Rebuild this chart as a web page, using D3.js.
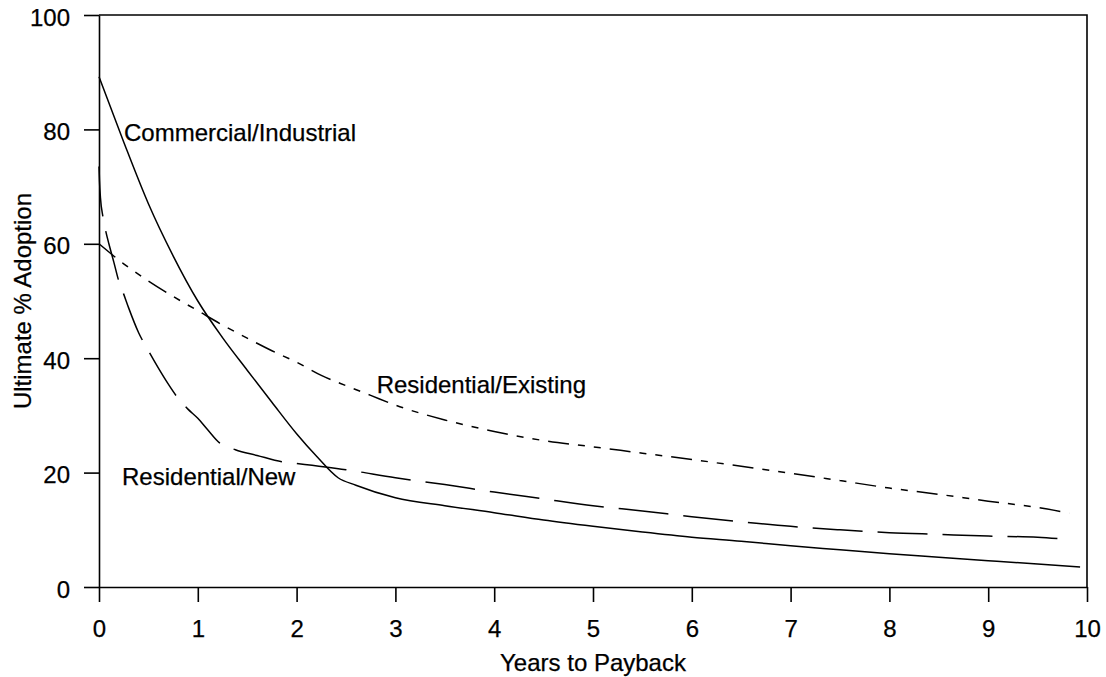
<!DOCTYPE html>
<html>
<head>
<meta charset="utf-8">
<script src="https://cdn.jsdelivr.net/npm/d3@7"></script>
<style>
  html, body { margin: 0; padding: 0; background: #fff; }
  svg { display: block; }
  text { font-family: "Liberation Sans", Arial, Helvetica, sans-serif; fill: #000; stroke: #000; stroke-width: 0.25px; }
</style>
</head>
<body>
<svg id="chart" width="1106" height="677"></svg>
<script>
// Adoption curves versus payback period
const xTicks = [0, 1, 2, 3, 4, 5, 6, 7, 8, 9, 10];
const yTicks = [0, 20, 40, 60, 80, 100];

const seriesNames = ["Commercial/Industrial", "Residential/Existing", "Residential/New"];

const commercialYears = [0, 0.25, 0.5, 0.75, 1, 1.25, 1.5, 1.75, 2, 2.2, 2.42, 2.6, 3, 3.5, 4, 4.5, 5, 5.5, 6, 6.5, 7, 7.5, 8, 8.5, 9, 9.5, 9.93];
const commercialAdoption = [89.2, 77.8, 67.0, 57.9, 50.0, 43.6, 37.9, 32.3, 26.8, 22.9, 19.1, 17.8, 15.6, 14.2, 13.0, 11.7, 10.6, 9.6, 8.7, 8.0, 7.2, 6.5, 5.8, 5.2, 4.6, 4.0, 3.5];

const existingYears = [0, 0.25, 0.5, 0.75, 1, 1.25, 1.5, 1.75, 2, 2.25, 2.5, 2.75, 3, 3.5, 4, 4.5, 5, 5.5, 6, 6.5, 7, 7.5, 8, 8.5, 9, 9.5, 9.82];
const existingAdoption = [60.0, 56.5, 53.5, 50.8, 48.3, 45.8, 43.5, 41.3, 39.3, 37.0, 35.2, 33.5, 31.8, 29.2, 27.2, 25.6, 24.5, 23.4, 22.3, 21.1, 19.9, 18.6, 17.3, 16.2, 15.0, 13.9, 12.9];

const newYears = [0, 0.005, 0.015, 0.04, 0.07, 0.1, 0.15, 0.2, 0.25, 0.3, 0.4, 0.5, 0.6, 0.7, 0.8, 0.9, 1.0, 1.1, 1.22, 1.38, 1.6, 1.85, 2.0, 2.5, 3, 3.5, 4, 4.5, 5, 5.5, 6, 6.5, 7, 7.5, 8, 8.5, 9, 9.5, 9.75];
const newAdoption = [73.5, 71.0, 68.0, 64.7, 62.1, 60.0, 56.8, 53.5, 51.2, 48.8, 44.5, 41.3, 38.3, 35.5, 33.0, 31.1, 29.5, 27.5, 25.2, 24.0, 23.0, 21.9, 21.6, 20.5, 19.1, 17.9, 16.6, 15.4, 14.2, 13.3, 12.3, 11.4, 10.6, 10.0, 9.5, 9.2, 8.9, 8.7, 8.4];

const svg = d3.select("#chart");
const plotLeft = 99, plotRight = 1087, plotTop = 15, plotBottom = 587;
const tickLen = 15;
const fontPx = 24;

const x = d3.scaleLinear().domain([0, 10]).range([plotLeft, plotRight]);
const y = d3.scaleLinear().domain([0, 100]).range([plotBottom, plotTop]);

// Frame: top and right edges
svg.append("path")
  .attr("d", `M${plotLeft},${plotTop}H${plotRight}V${plotBottom}`)
  .attr("fill", "none").attr("stroke", "#000").attr("stroke-width", 1.6);

// Left axis
const gy = svg.append("g").attr("transform", `translate(${plotLeft},0)`)
  .call(d3.axisLeft(y).tickValues(yTicks).tickSize(tickLen).tickSizeOuter(0).tickPadding(14));
// Bottom axis
const gx = svg.append("g").attr("transform", `translate(0,${plotBottom})`)
  .call(d3.axisBottom(x).tickValues(xTicks).tickSize(tickLen).tickSizeOuter(0).tickPadding(18));

[gy, gx].forEach(g => {
  g.select(".domain").attr("stroke", "#000").attr("stroke-width", 1.6);
  g.selectAll(".tick line").attr("stroke", "#000").attr("stroke-width", 1.6);
  g.selectAll(".tick text")
    .attr("fill", "#000")
    .style("font-family", '"Liberation Sans", Arial, Helvetica, sans-serif')
    .style("font-size", fontPx + "px");
});
gy.selectAll(".tick text").attr("dy", "0.42em");
gx.selectAll(".tick text").attr("dy", "0.71em");

// Axis titles
svg.append("text")
  .attr("x", (plotLeft + plotRight) / 2).attr("y", 671)
  .attr("text-anchor", "middle")
  .style("font-size", fontPx + "px")
  .text("Years to Payback");

svg.append("text")
  .attr("transform", `translate(31,${(plotTop + plotBottom) / 2}) rotate(-90)`)
  .attr("text-anchor", "middle")
  .style("font-size", fontPx + "px")
  .text("Ultimate % Adoption");

// Curves
const line = d3.line()
  .x(d => x(d[0]))
  .y(d => y(d[1]))
  .curve(d3.curveMonotoneX);

const curves = [
  { xs: commercialYears, ys: commercialAdoption, dash: null },
  { xs: existingYears, ys: existingAdoption, dash: "21,9,7,9,7,9" },
  { xs: newYears, ys: newAdoption, dash: "50,15" }
];

curves.forEach(c => {
  svg.append("path")
    .datum(d3.zip(c.xs, c.ys))
    .attr("d", line)
    .attr("fill", "none")
    .attr("stroke", "#000")
    .attr("stroke-width", 1.5)
    .attr("stroke-dasharray", c.dash);
});

// Curve labels, placed in data coordinates
const labelAt = [[0.253, 78.0], [2.81, 33.9], [0.233, 17.8]];
seriesNames.forEach((name, i) => {
  svg.append("text")
    .attr("x", x(labelAt[i][0]))
    .attr("y", y(labelAt[i][1]))
    .style("font-size", fontPx + "px")
    .text(name);
});
</script>
</body>
</html>
